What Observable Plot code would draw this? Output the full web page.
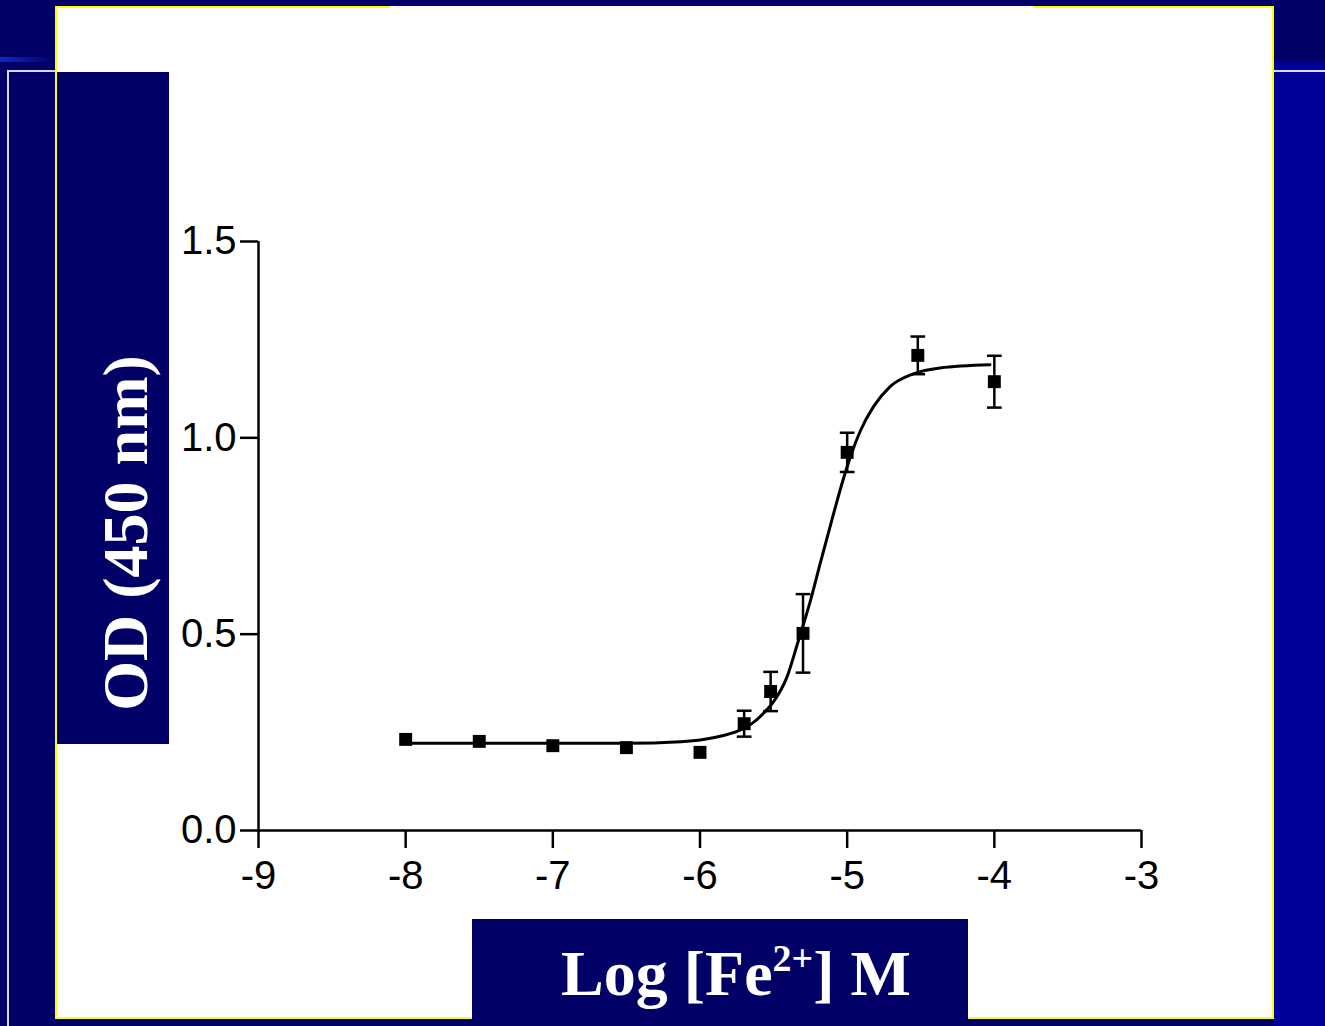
<!DOCTYPE html>
<html>
<head>
<meta charset="utf-8">
<script src="https://cdn.jsdelivr.net/npm/d3@7"></script>
<script src="https://cdn.jsdelivr.net/npm/@observablehq/plot@0.6"></script>
<style>
  html, body { margin: 0; padding: 0; }
  body { width: 1325px; height: 1026px; overflow: hidden; background: #000066; position: relative; }
  .abs { position: absolute; }
  #chart { position: absolute; left: 0; top: 0; width: 1325px; height: 1026px; }
  #chart svg g[aria-label*="axis"] * { stroke-width: 2.5px; }
  .lbl { color: #fff; font-family: "Liberation Serif", "Times New Roman", serif; font-weight: bold; font-size: 64px; white-space: nowrap; line-height: 64px; }
</style>
</head>
<body>
<div class="abs" style="left:1273px;top:61px;width:52px;height:965px;background:#000099"></div>
<div class="abs" style="left:1273px;top:70px;width:52px;height:2px;background:#dcdcf4"></div>
<div class="abs" style="left:0;top:57px;width:55px;height:5px;background:linear-gradient(to right,#0a2ac8,#000066)"></div>
<div class="abs" style="left:7px;top:70px;width:2px;height:956px;background:#d8d8f0"></div>
<div class="abs" style="left:7px;top:70px;width:162px;height:2px;background:#d8d8f0"></div>
<div class="abs" style="left:55px;top:6px;width:1219px;height:1013px;background:#ffffff"></div>
<div id="chart"></div>
<div class="abs" style="left:9px;top:72px;width:160px;height:672px;background:#000066"></div>
<div class="abs" style="left:55px;top:6px;width:1219px;height:1013px;border:2px solid #ffff00;box-sizing:border-box"></div>
<div class="abs" style="left:390px;top:6px;width:643px;height:2px;background:#fafafa"></div>
<div class="abs" style="left:472px;top:919px;width:496px;height:107px;background:#000066"></div>
<div class="abs lbl" id="ylab" style="left:126px;top:533px;transform:translate(-50%,-50%) rotate(-90deg);">OD (450 nm)</div>
<div class="abs lbl" id="xlab" style="left:736px;top:942px;transform:translateX(-50%);">Log [Fe<span style="font-size:38px;vertical-align:24px;line-height:0">2+</span>] M</div>
<script>
// Measured data points (log molar Fe2+ concentration, OD at 450 nm, error)
const logConc = [-8, -7.5, -7, -6.5, -6, -5.7, -5.52, -5.3, -5, -4.52, -4];
const od      = [0.232, 0.227, 0.216, 0.211, 0.199, 0.272, 0.354, 0.502, 0.963, 1.21, 1.143];
const err     = [0, 0, 0, 0, 0, 0.033, 0.05, 0.1, 0.05, 0.048, 0.066];

// Fitted curve
const fitX = [-8, -7, -6.5, -6.13, -5.91, -5.725, -5.66, -5.57, -5.5, -5.41, -5.33, -5.25, -5.18, -5.09, -5.03, -4.97, -4.91, -4.82, -4.71, -4.55, -4.37, -4.03];
const fitY = [0.222, 0.222, 0.222, 0.226, 0.236, 0.256, 0.269, 0.298, 0.328, 0.39, 0.485, 0.585, 0.685, 0.81, 0.89, 0.96, 1.018, 1.08, 1.13, 1.163, 1.178, 1.186];

// Axis ticks
const xTicks = [-9, -8, -7, -6, -5, -4, -3];
const yTicks = [0, 0.5, 1.0, 1.5];

const points = logConc.map((x, i) => ({x, y: od[i], e: err[i]}));
const bars = points.filter(d => d.e > 0);
const fit = fitX.map((x, i) => ({x, y: fitY[i]}));
const capHalf = 0.05;

const chart = Plot.plot({
  width: 1325,
  height: 1026,
  marginLeft: 258,
  marginRight: 184,
  marginTop: 241,
  marginBottom: 196,
  style: {background: "transparent", fontSize: "40px", fontFamily: "'Liberation Sans', Arial, sans-serif", color: "black"},
  x: {domain: [-9, -3], ticks: xTicks, tickSize: 18, tickPadding: 12, tickFormat: d => String(d), label: null},
  y: {domain: [0, 1.5], ticks: yTicks, tickSize: 18, tickPadding: 4, tickFormat: d => d.toFixed(1), label: null},
  marks: [
    Plot.ruleY([0], {stroke: "black", strokeWidth: 2.5}),
    Plot.ruleX([-9], {stroke: "black", strokeWidth: 2.5}),
    Plot.line(fit, {x: "x", y: "y", curve: "monotone-x", stroke: "black", strokeWidth: 3}),
    Plot.ruleX(bars, {x: "x", y1: d => d.y - d.e, y2: d => d.y + d.e, stroke: "black", strokeWidth: 2.5}),
    Plot.link(bars, {x1: d => d.x - capHalf, x2: d => d.x + capHalf, y1: d => d.y + d.e, y2: d => d.y + d.e, stroke: "black", strokeWidth: 2.5}),
    Plot.link(bars, {x1: d => d.x - capHalf, x2: d => d.x + capHalf, y1: d => d.y - d.e, y2: d => d.y - d.e, stroke: "black", strokeWidth: 2.5}),
    Plot.dot(points, {x: "x", y: "y", symbol: "square", r: 7.3, fill: "black", stroke: "none"})
  ]
});
document.getElementById("chart").appendChild(chart);
</script>
</body>
</html>
